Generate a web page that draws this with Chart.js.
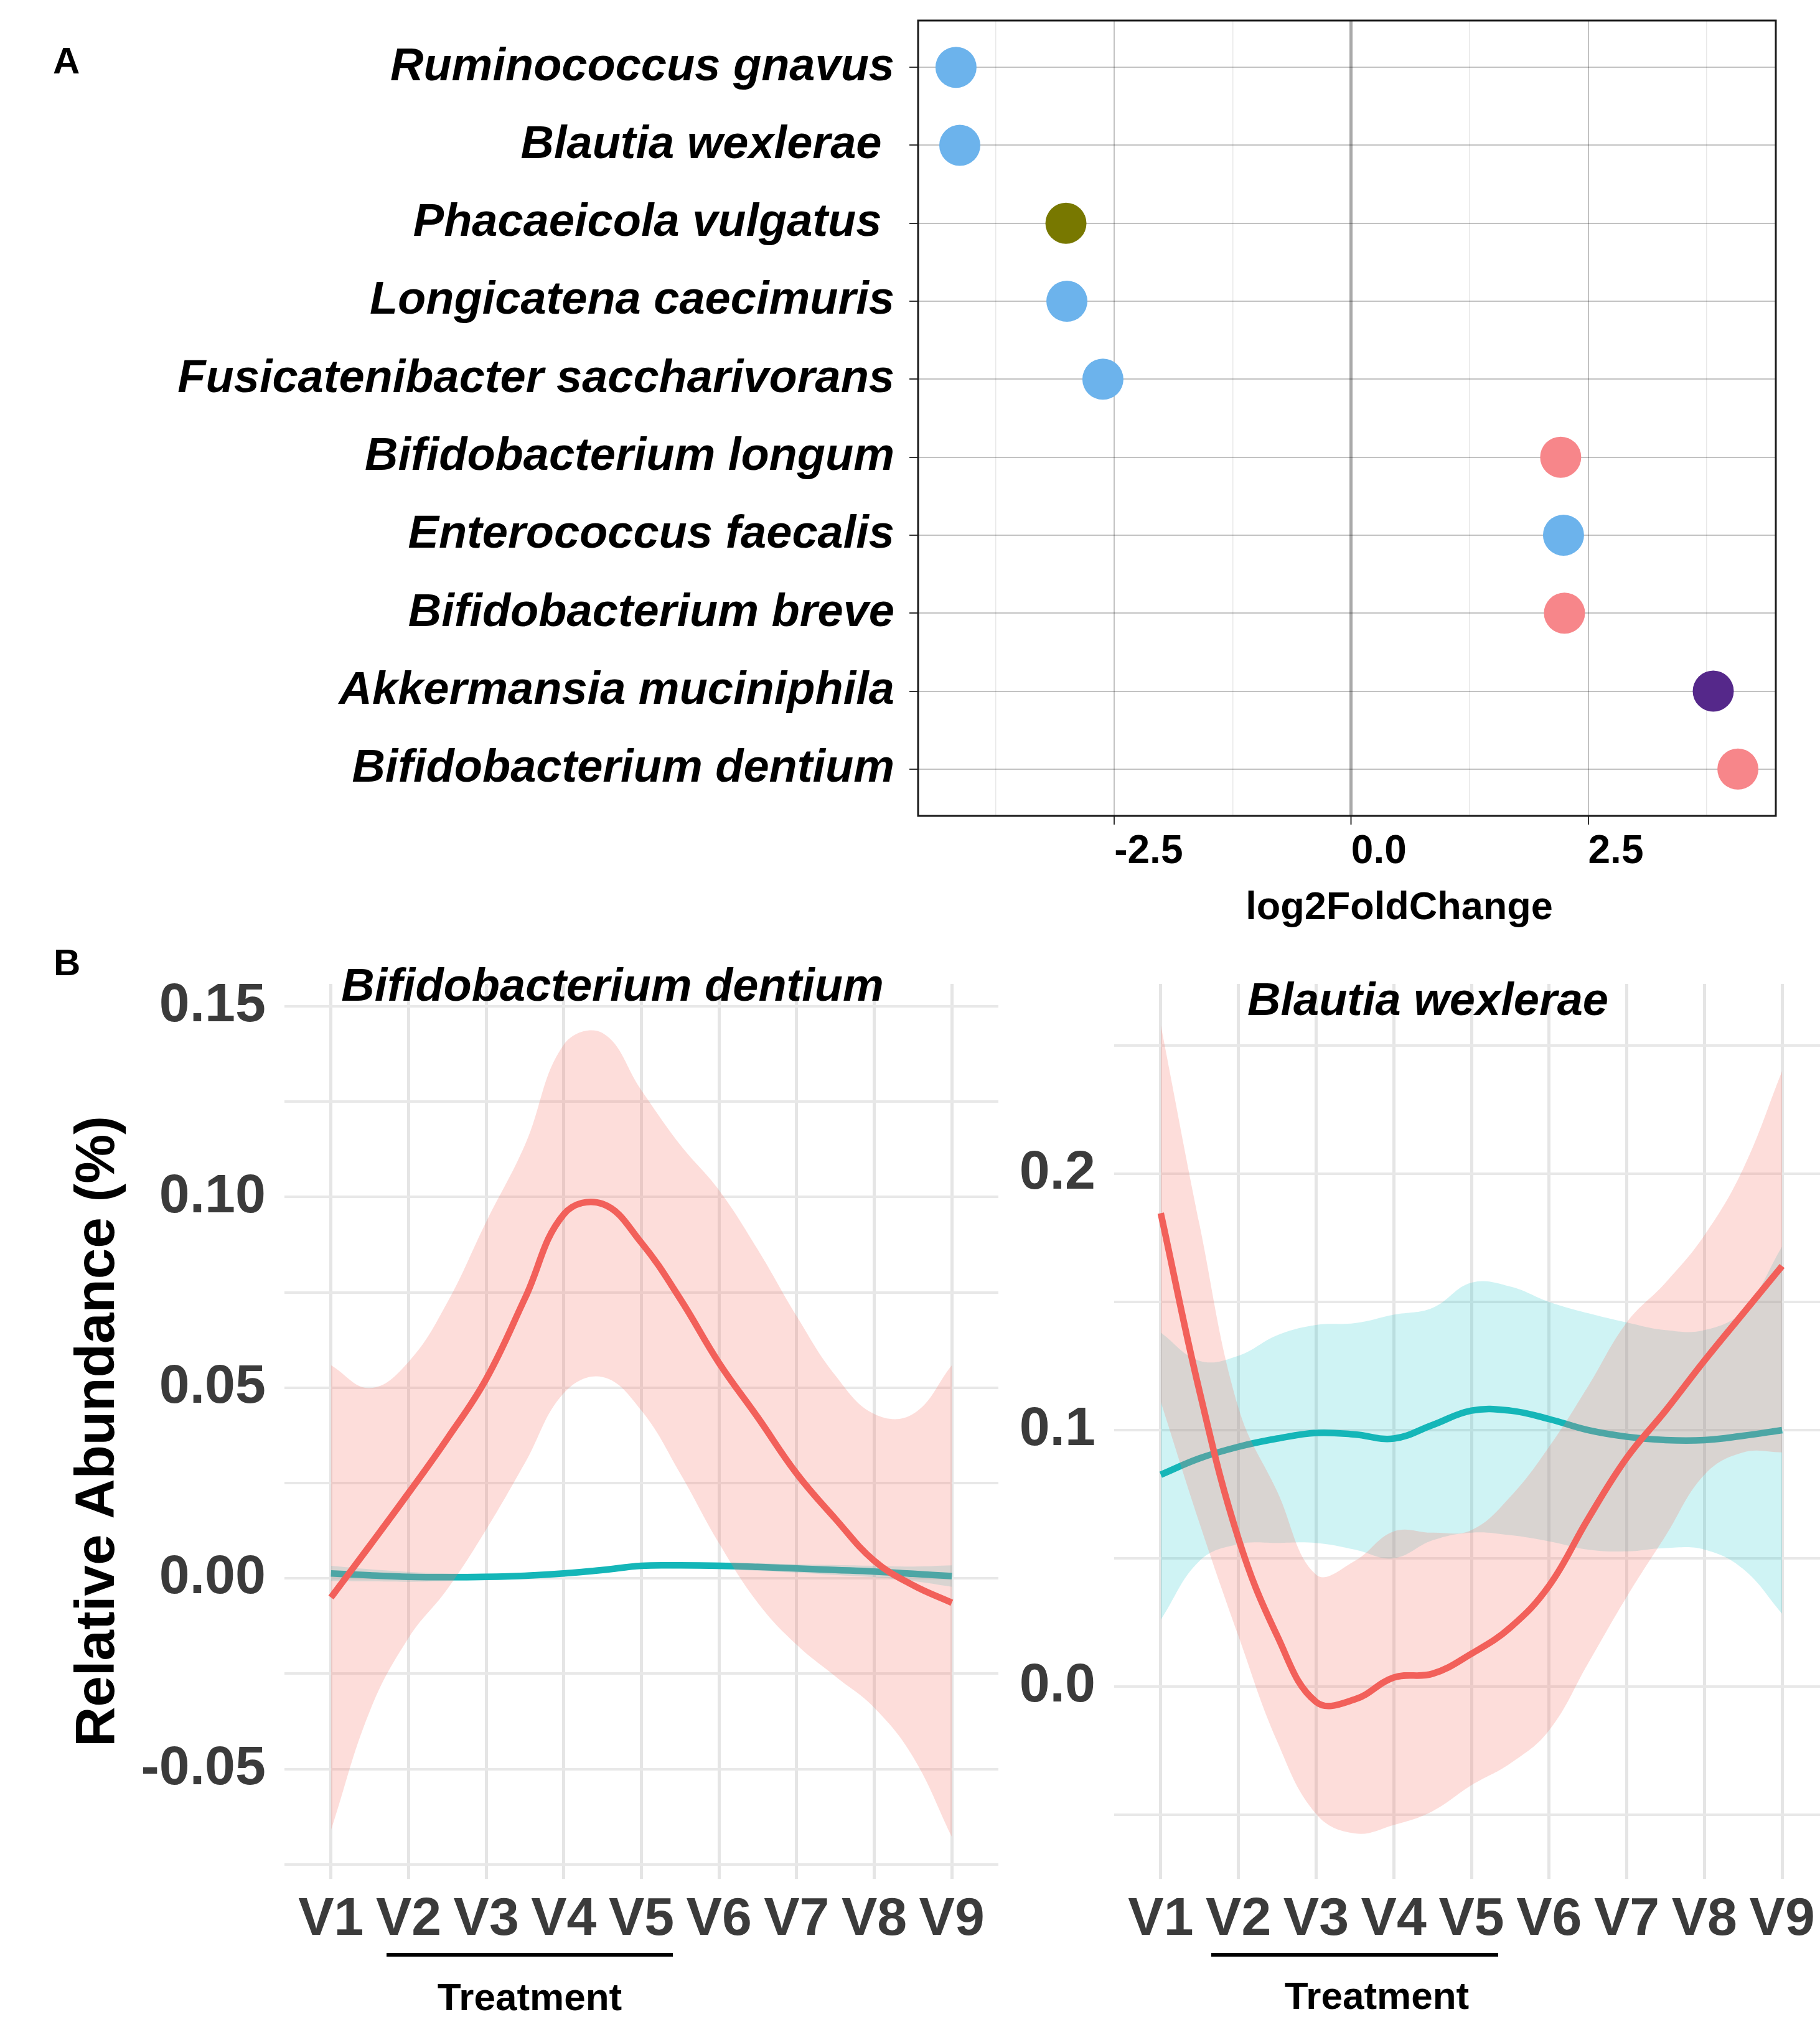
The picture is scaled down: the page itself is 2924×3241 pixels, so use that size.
<!DOCTYPE html>
<html>
<head>
<meta charset="utf-8">
<title>log2FoldChange and relative abundance</title>
<script src="https://cdn.jsdelivr.net/npm/chart.js@4.4.1/dist/chart.umd.min.js"></script>
<style>
  html, body { margin: 0; padding: 0; background: #fff; width: 2924px; height: 3241px; overflow: hidden; }
  canvas { position: absolute; }
  .lbl { position: absolute; white-space: nowrap; font-family: "Liberation Sans", Arial, sans-serif; font-weight: bold; color: #000; }
  .mid { transform: translateX(-50%); }
  .bar { position: absolute; background: #000; height: 6px; }
</style>
</head>
<body>
<canvas id="foldChart" width="2924" height="1420" style="left:0px;top:0px"></canvas>
<canvas id="dentiumChart" width="1700" height="1600" style="left:0px;top:1540px"></canvas>
<canvas id="wexleraeChart" width="1480" height="1600" style="left:1500px;top:1540px"></canvas>

<div class="lbl" style="left:85px;top:68px;font-size:60px;line-height:60px">A</div>
<div class="lbl mid" style="left:2248px;top:1424px;font-size:63px;line-height:63px">log2FoldChange</div>
<div class="lbl" style="left:86px;top:1517px;font-size:60px;line-height:60px">B</div>
<div class="lbl mid" style="left:984px;top:1546px;font-size:74px;line-height:74px;font-style:italic">Bifidobacterium dentium</div>
<div class="lbl mid" style="left:2294px;top:1569px;font-size:74px;line-height:74px;font-style:italic">Blautia wexlerae</div>
<div class="bar" style="left:621px;top:3138px;width:460px"></div>
<div class="bar" style="left:1946px;top:3138px;width:461px"></div>
<div class="lbl mid" style="left:851px;top:3178px;font-size:62px;line-height:62px">Treatment</div>
<div class="lbl mid" style="left:2212px;top:3176px;font-size:62px;line-height:62px">Treatment</div>

<script>
// panel A: log2 fold changes, top to bottom
const species = [
  "Ruminococcus gnavus",
  "Blautia wexlerae ",
  "Phacaeicola vulgatus ",
  "Longicatena caecimuris",
  "Fusicatenibacter saccharivorans",
  "Bifidobacterium longum",
  "Enterococcus faecalis",
  "Bifidobacterium breve",
  "Akkermansia muciniphila",
  "Bifidobacterium dentium"
];
const log2FoldChange = [-4.17, -4.13, -3.01, -3.00, -2.62, 2.21, 2.24, 2.25, 3.82, 4.08];
const pointColors = ["#6cb3ec", "#6cb3ec", "#787800", "#6cb3ec", "#6cb3ec",
                     "#f7868a", "#6cb3ec", "#f7868a", "#55288a", "#f7868a"];

// panel B: smoothed trajectories, read at half-visit steps
const visits = ["V1", "V2", "V3", "V4", "V5", "V6", "V7", "V8", "V9"];
const smoothX = [1, 1.5, 2, 2.5, 3, 3.5, 4, 4.5, 5, 5.5, 6, 6.5, 7, 7.5, 8, 8.5, 9];

const dentiumRed   = [-0.0050, 0.0086, 0.0224, 0.0367, 0.0523, 0.0735, 0.0955, 0.0982, 0.0880, 0.0733, 0.0565, 0.0422, 0.0275, 0.0156, 0.0046, -0.0018, -0.0064];
const dentiumRedHi = [0.0559, 0.0499, 0.0568, 0.0724, 0.0935, 0.1137, 0.1400, 0.1430, 0.1280, 0.1137, 0.1018, 0.0862, 0.0688, 0.0532, 0.0431, 0.0431, 0.0559];
const dentiumRedLo = [-0.0660, -0.0348, -0.0156, -0.0028, 0.0128, 0.0303, 0.0486, 0.0528, 0.0440, 0.0275, 0.0092, -0.0064, -0.0174, -0.0257, -0.0339, -0.0468, -0.0678];
const dentiumTeal   = [0.0013, 0.0008, 0.0004, 0.0003, 0.0004, 0.0007, 0.0013, 0.0022, 0.0033, 0.0034, 0.0033, 0.0030, 0.0026, 0.0022, 0.0018, 0.0012, 0.0006];
const dentiumTealHi = [0.0033, 0.0024, 0.0017, 0.0013, 0.0013, 0.0015, 0.0021, 0.0030, 0.0041, 0.0042, 0.0042, 0.0040, 0.0037, 0.0035, 0.0033, 0.0031, 0.0034];
const dentiumTealLo = [-0.0007, -0.0008, -0.0009, -0.0007, -0.0005, -0.0001, 0.0005, 0.0014, 0.0025, 0.0026, 0.0024, 0.0020, 0.0015, 0.0009, 0.0003, -0.0007, -0.0022];

const wexleraeRed   = [0.1846, 0.1150, 0.0577, 0.0197, -0.0060, -0.0050, 0.0035, 0.0050, 0.0128, 0.0230, 0.0393, 0.0653, 0.0892, 0.1076, 0.1271, 0.1456, 0.1640];
const wexleraeRedHi = [0.2580, 0.1800, 0.1087, 0.0760, 0.0436, 0.0490, 0.0605, 0.0600, 0.0610, 0.0740, 0.0935, 0.1170, 0.1420, 0.1575, 0.1760, 0.2020, 0.2400];
const wexleraeRedLo = [0.1110, 0.0636, 0.0197, -0.0215, -0.0497, -0.0573, -0.0540, -0.0486, -0.0385, -0.0300, -0.0171, 0.0089, 0.0350, 0.0588, 0.0826, 0.0913, 0.0913];
const wexleraeTeal   = [0.0826, 0.0890, 0.0935, 0.0967, 0.0989, 0.0983, 0.0967, 0.1020, 0.1076, 0.1076, 0.1043, 0.1000, 0.0974, 0.0961, 0.0961, 0.0978, 0.1000];
const wexleraeTealHi = [0.1380, 0.1270, 0.1290, 0.1370, 0.1410, 0.1417, 0.1450, 0.1477, 0.1575, 0.1560, 0.1500, 0.1456, 0.1420, 0.1390, 0.1390, 0.1466, 0.1716];
const wexleraeTealLo = [0.0260, 0.0490, 0.0555, 0.0560, 0.0560, 0.0534, 0.0500, 0.0570, 0.0600, 0.0590, 0.0566, 0.0534, 0.0527, 0.0540, 0.0534, 0.0458, 0.0284];

const FONT = '"Liberation Sans", Arial, sans-serif';
const RED = "#f2605a";
const TEAL = "#14b6b8";
const RED_BAND = "rgba(248,118,109,0.25)";
const TEAL_BAND = "rgba(0,191,196,0.19)";
const CLEAR = "rgba(0,0,0,0)";

Chart.defaults.font.family = FONT;
Chart.defaults.animation = false;

document.addEventListener("DOMContentLoaded", () => {
  initFoldChart();
  initTrajectoryChart("dentiumChart", {
    red: [dentiumRed, dentiumRedHi, dentiumRedLo],
    teal: [dentiumTeal, dentiumTealHi, dentiumTealLo],
    min: -0.0788, max: 0.1559, step: 0.025, major: 0.05, digits: 2,
    axisWidth: 457, padRight: 96, yTitle: "Relative Abundance (%)"
  });
  initTrajectoryChart("wexleraeChart", {
    red: [wexleraeRed, wexleraeRedHi, wexleraeRedLo],
    teal: [wexleraeTeal, wexleraeTealHi, wexleraeTealLo],
    min: -0.075, max: 0.274, step: 0.05, major: 0.1, digits: 1,
    axisWidth: 290, padRight: 42, yTitle: null
  });
});

function onStep(v, step) {
  return Math.abs(v / step - Math.round(v / step)) < 1e-6;
}

// fixed axis box, no extra room for overhanging labels
function fixBox(w, h) {
  return (s) => {
    if (w != null) s.width = w;
    if (h != null) s.height = h;
    s.paddingTop = 0;
    s.paddingBottom = 0;
    s.paddingLeft = 0;
    s.paddingRight = 0;
  };
}

// black box around panel A
const framePlugin = {
  id: "frame",
  afterDatasetsDraw(chart) {
    const { ctx, chartArea: a } = chart;
    ctx.save();
    ctx.strokeStyle = "#1a1a1a";
    ctx.lineWidth = 3;
    ctx.strokeRect(a.left, a.top, a.right - a.left, a.bottom - a.top);
    ctx.restore();
  }
};

function initFoldChart() {
  const ctx = document.getElementById("foldChart");
  const major = (c) => c.tick && onStep(c.tick.value, 2.5);
  const zero = (c) => c.tick && Math.abs(c.tick.value) < 1e-9;

  new Chart(ctx, {
    type: "scatter",
    data: {
      datasets: [{
        data: species.map((s, i) => ({ x: log2FoldChange[i], y: i + 1 })),
        backgroundColor: pointColors,
        borderWidth: 0,
        pointRadius: 33,
        pointHoverRadius: 33
      }]
    },
    options: {
      responsive: false,
      layout: { padding: { top: 31, right: 71, left: 0, bottom: 0 } },
      plugins: { legend: { display: false }, tooltip: { enabled: false } },
      scales: {
        x: {
          type: "linear",
          min: -4.57,
          max: 4.48,
          afterFit: fixBox(null, 109),
          border: { display: false },
          grid: {
            color: (c) => zero(c) ? "#a9a9a9" : major(c) ? "rgba(0,0,0,0.24)" : "rgba(0,0,0,0.09)",
            lineWidth: (c) => zero(c) ? 5 : major(c) ? 2 : 1.5,
            tickColor: (c) => major(c) ? "#333" : CLEAR,
            tickLength: 14,
            tickWidth: 2
          },
          ticks: {
            stepSize: 1.25,
            includeBounds: false,
            autoSkip: false,
            maxRotation: 0,
            align: "start",
            padding: 6,
            color: "#000",
            font: { size: 64, weight: "bold" },
            callback: (v) => onStep(v, 2.5) ? v.toFixed(1) : ""
          }
        },
        y: {
          type: "linear",
          reverse: true,
          min: 0.4,
          max: 10.6,
          afterFit: fixBox(1475, null),
          border: { display: false },
          grid: { color: "rgba(0,0,0,0.24)", lineWidth: 2, tickColor: "#333", tickLength: 14, tickWidth: 2 },
          ticks: {
            stepSize: 1,
            includeBounds: false,
            autoSkip: false,
            padding: 24,
            color: "#000",
            font: { size: 74, weight: "bold", style: "italic" },
            callback: (v) => species[Math.round(v) - 1] ?? ""
          }
        }
      }
    },
    plugins: [framePlugin]
  });
}

function initTrajectoryChart(id, cfg) {
  const ctx = document.getElementById(id);
  const pts = (arr) => smoothX.map((x, i) => ({ x, y: arr[i] }));
  const fit = (arr, color, order) => ({
    data: pts(arr), borderColor: color, borderWidth: 10.5, fill: false, order
  });
  const edge = (arr, fill, color, order) => ({
    data: pts(arr), borderColor: CLEAR, borderWidth: 0, backgroundColor: color, fill, order
  });

  new Chart(ctx, {
    type: "line",
    data: {
      datasets: [
        fit(cfg.red[0], RED, 1),
        edge(cfg.red[1], "+1", RED_BAND, 2),
        edge(cfg.red[2], false, CLEAR, 2),
        fit(cfg.teal[0], TEAL, 3),
        edge(cfg.teal[1], "+1", TEAL_BAND, 4),
        edge(cfg.teal[2], false, CLEAR, 4)
      ]
    },
    options: {
      responsive: false,
      layout: { padding: { top: 41, right: cfg.padRight, left: 0, bottom: 0 } },
      elements: {
        point: { radius: 0, hoverRadius: 0 },
        line: { tension: 0.4, borderCapStyle: "butt", borderJoinStyle: "round" }
      },
      plugins: { legend: { display: false }, tooltip: { enabled: false } },
      scales: {
        x: {
          type: "linear",
          min: 0.4,
          max: 9.6,
          afterFit: fixBox(null, 121),
          border: { display: false },
          grid: { color: "#e5e5e5", lineWidth: 5, drawTicks: false },
          ticks: {
            stepSize: 1,
            includeBounds: false,
            autoSkip: false,
            maxRotation: 0,
            padding: 15,
            color: "#3b3b3b",
            font: { size: 86, weight: "bold" },
            callback: (v) => visits[Math.round(v) - 1] ?? ""
          }
        },
        y: {
          type: "linear",
          min: cfg.min,
          max: cfg.max,
          afterFit: fixBox(cfg.axisWidth, null),
          border: { display: false },
          grid: { color: "#e8e8e8", lineWidth: 4, drawTicks: false },
          ticks: {
            stepSize: cfg.step,
            includeBounds: false,
            autoSkip: false,
            padding: 30,
            color: "#3b3b3b",
            font: { size: 88, weight: "bold" },
            callback: (v) => {
              if (!onStep(v, cfg.major)) return "";
              const val = Math.abs(v) < 1e-9 ? 0 : v;
              return val.toFixed(cfg.digits);
            }
          },
          title: {
            display: !!cfg.yTitle,
            text: cfg.yTitle || "",
            color: "#000",
            font: { size: 89, weight: "bold" },
            padding: { top: 105, bottom: 0 }
          }
        }
      }
    }
  });
}
</script>
</body>
</html>
